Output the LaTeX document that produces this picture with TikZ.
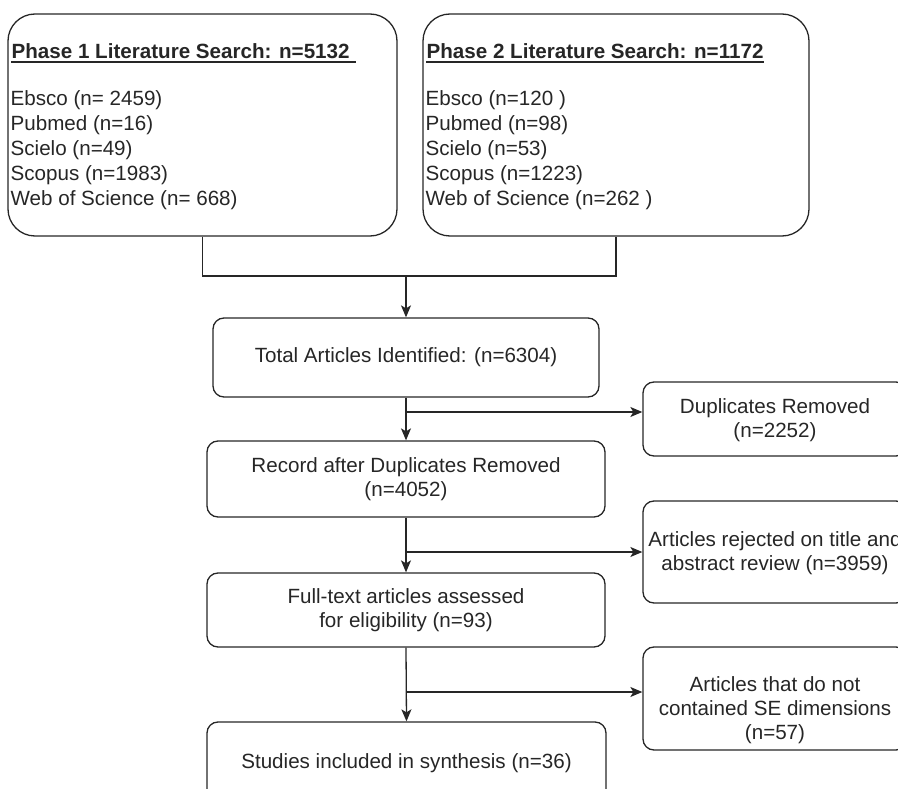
\documentclass[tikz,border=0pt]{standalone}
\usepackage{fontspec}
\setmainfont{Liberation Sans}
\usetikzlibrary{arrows.meta}
\begin{document}
\begin{tikzpicture}[x=1pt,y=-1pt,
  line width=1.3pt, draw=black!85,
  bigbox/.style={draw=black!85, rounded corners=27pt, inner sep=0pt},
  box/.style={draw=black!85, rounded corners=11pt, inner sep=0pt},
  txt/.style={inner sep=0pt, font=\fontsize{20.6}{24}\selectfont, align=center, text=black!85},
  ltxt/.style={inner sep=0pt, font=\fontsize{20.6}{25}\selectfont, anchor=base west, text=black!85},
  ttl/.style={ltxt, font=\bfseries\fontsize{20.6}{25}\selectfont},
  arr/.style={-{Stealth[length=12pt,width=10pt,inset=3pt]}}]
\useasboundingbox (0,0) rectangle (898,789);
\clip (0,0) rectangle (898,789);

% Phase boxes
\node[bigbox, minimum width=389pt, minimum height=222pt] (p1) at (202.5,125) {};
\node[bigbox, minimum width=386pt, minimum height=222pt] (p2) at (616,125) {};

\node[ttl] (t1) at (11,59) {Phase 1 Literature Search: n=5132\ \mbox{}};
\draw[line width=1.4pt] ([yshift=-3pt]t1.base west) -- ([yshift=-3pt]t1.base east);
\node[ltxt] (a1) at (10,106) {Ebsco (n= 2459)};
\node[ltxt] (a2) at (10,131) {Pubmed (n=16)};
\node[ltxt] (a3) at (10,156) {Scielo (n=49)};
\node[ltxt] (a4) at (10,181) {Scopus (n=1983)};
\node[ltxt] (a5) at (10,206) {Web of Science (n= 668)};

\node[ttl] (t2) at (426,59) {Phase 2 Literature Search: n=1172};
\draw[line width=1.4pt] ([yshift=-3pt]t2.base west) -- ([yshift=-3pt]t2.base east);
\node[ltxt] (b1) at (425,106) {Ebsco (n=120 )};
\node[ltxt] (b2) at (425,131) {Pubmed (n=98)};
\node[ltxt] (b3) at (425,156) {Scielo (n=53)};
\node[ltxt] (b4) at (425,181) {Scopus (n=1223)};
\node[ltxt] (b5) at (425,206) {Web of Science (n=262 )};

% Main column
\node[box, minimum width=386pt, minimum height=79pt] (tot) at (406,357.5) {};
\node[txt] (tott) at (406,357) {Total Articles Identified: (n=6304)};

\node[box, minimum width=398pt, minimum height=76pt] (rec) at (406,479) {};
\node[txt] (rect) at (406,479) {Record after Duplicates Removed\\(n=4052)};

\node[box, minimum width=398pt, minimum height=74pt] (ful) at (406,610) {};
\node[txt] (fult) at (406,610) {Full-text articles assessed\\for eligibility (n=93)};

\node[box, minimum width=399pt, minimum height=82pt] (stu) at (406.5,763) {};
\node[txt] (stut) at (406.5,763) {Studies included in synthesis (n=36)};

% Right column
\node[box, minimum width=264pt, minimum height=74pt] (dup) at (775,419) {};
\node[txt] (dupt) at (775,420) {Duplicates Removed\\(n=2252)};

\node[box, minimum width=264pt, minimum height=102pt] (rej) at (775,552) {};
\node[txt] (rejt) at (775,553) {Articles rejected on title and\\abstract review (n=3959)};

\node[box, minimum width=264pt, minimum height=103pt] (se) at (775,698.5) {};
\node[txt] (set) at (775,710.5) {Articles that do not\\contained SE dimensions\\(n=57)};

% Connectors
\coordinate (j1) at (406,276);
\draw (p1.south) |- (j1) -| (p2.south);
\draw[arr] (j1) -- (tot.north);

\draw[arr] (tot.south) -- (rec.north);
\coordinate (k1) at (406,412);
\draw[arr] (k1) -- (k1 -| dup.west);

\draw[arr] (rec.south) -- (ful.north);
\coordinate (k2) at (406,552);
\draw[arr] (k2) -- (k2 -| rej.west);

\draw[arr] (ful.south) -- (stu.north);
\coordinate (k3) at (406,692);
\draw[arr] (k3) -- (k3 -| se.west);
\end{tikzpicture}
\end{document}
